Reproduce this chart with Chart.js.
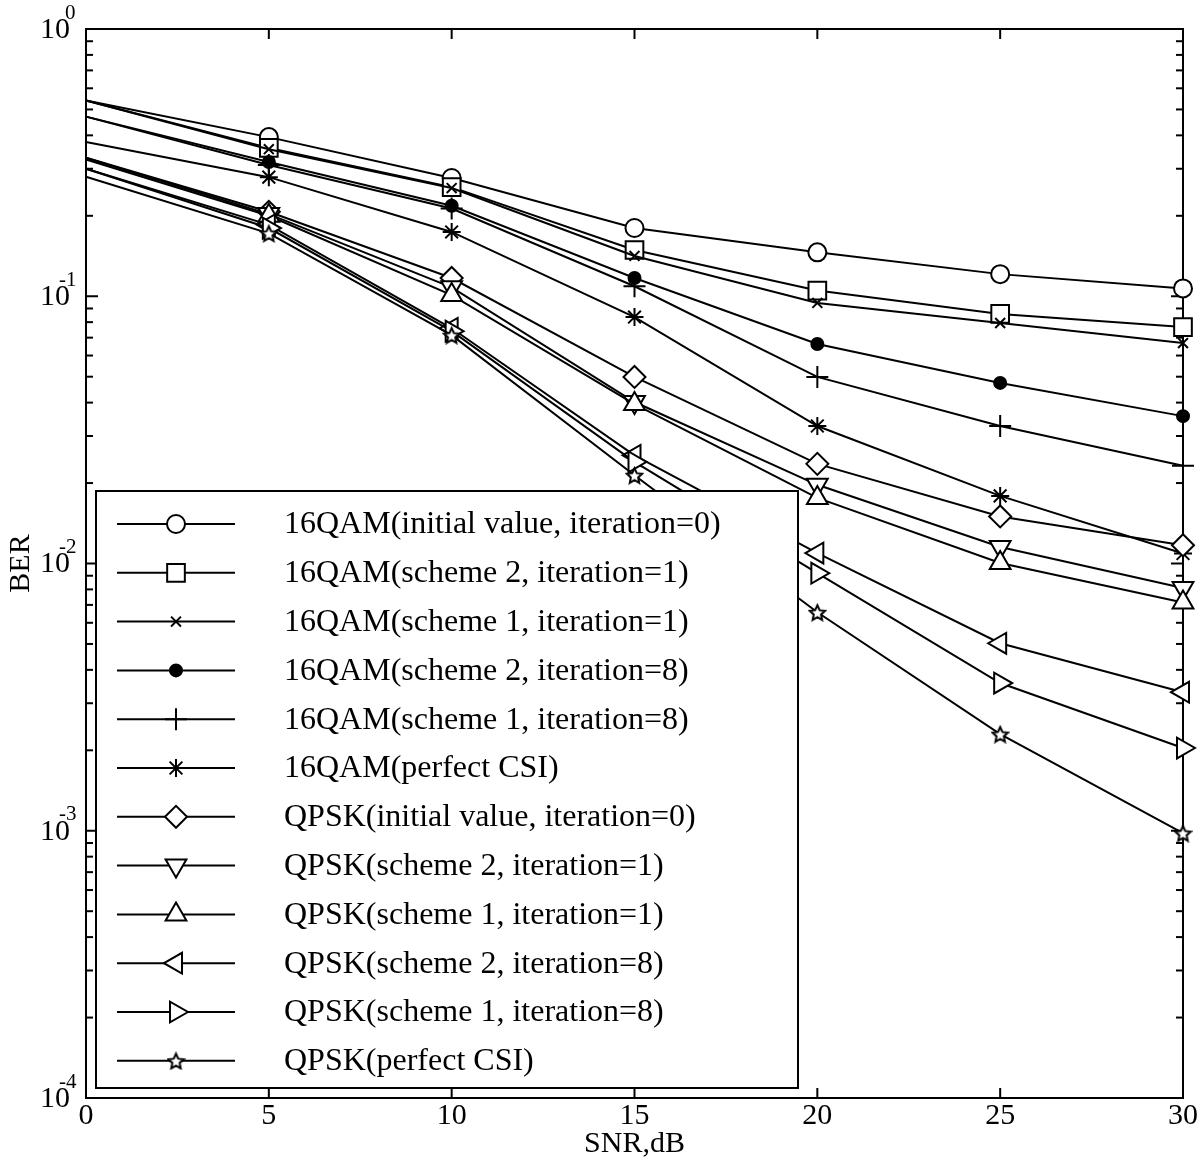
<!DOCTYPE html>
<html lang="en">
<head>
  <meta charset="UTF-8" />
  <title>BER vs SNR</title>
  <script src="https://cdn.jsdelivr.net/npm/chart.js"></script>
  <style>
    html, body { margin: 0; padding: 0; background: #fff; }
  </style>
</head>
<body>
  <canvas id="berChart" width="1200" height="1164"></canvas>

  <script>
    // SNR (dB) on the x axis
    const snr = [0, 5, 10, 15, 20, 25, 30];

    // BER values
    const qam16Init    = [0.54, 0.394, 0.277, 0.180, 0.146, 0.121, 0.107];
    const qam16S2It1   = [0.54, 0.359, 0.256, 0.149, 0.105, 0.0859, 0.0767];
    const qam16S1It1   = [0.54, 0.355, 0.254, 0.1415, 0.0944, 0.0794, 0.0668];
    const qam16S2It8   = [0.47, 0.318, 0.218, 0.117, 0.0663, 0.0474, 0.0356];
    const qam16S1It8   = [0.47, 0.31, 0.213, 0.109, 0.0499, 0.0327, 0.0232];
    const qam16Perfect = [0.378, 0.279, 0.174, 0.0836, 0.0327, 0.0179, 0.0109];
    const qpskInit     = [0.33, 0.207, 0.117, 0.0499, 0.0236, 0.0150, 0.0117];
    const qpskS2It1    = [0.33, 0.203, 0.108, 0.0402, 0.0197, 0.01153, 0.0081];
    const qpskS1It1    = [0.325, 0.200, 0.101, 0.0395, 0.0176, 0.01004, 0.00715];
    const qpskS2It8    = [0.30, 0.185, 0.0759, 0.0254, 0.01094, 0.00503, 0.0033];
    const qpskS1It8    = [0.30, 0.18, 0.074, 0.024, 0.0092, 0.00357, 0.00204];
    const qpskPerfect  = [0.28, 0.172, 0.0715, 0.0214, 0.00657, 0.0023, 0.00098];

    const seriesNames = [
      "16QAM(initial value, iteration=0)",
      "16QAM(scheme 2, iteration=1)",
      "16QAM(scheme 1, iteration=1)",
      "16QAM(scheme 2, iteration=8)",
      "16QAM(scheme 1, iteration=8)",
      "16QAM(perfect CSI)",
      "QPSK(initial value, iteration=0)",
      "QPSK(scheme 2, iteration=1)",
      "QPSK(scheme 1, iteration=1)",
      "QPSK(scheme 2, iteration=8)",
      "QPSK(scheme 1, iteration=8)",
      "QPSK(perfect CSI)"
    ];
    const seriesValues = [qam16Init, qam16S2It1, qam16S1It1, qam16S2It8, qam16S1It8, qam16Perfect,
                          qpskInit, qpskS2It1, qpskS1It1, qpskS2It8, qpskS1It8, qpskPerfect];

    // tick labels
    const xTickValues = [0, 5, 10, 15, 20, 25, 30];
    const xTickLabels = ["0", "5", "10", "15", "20", "25", "30"];
    const yTickValues = [1, 0.1, 0.01, 0.001, 0.0001];
    const yTickExponents = ["0", "-1", "-2", "-3", "-4"];

    const serif = '"Liberation Serif", "Times New Roman", serif';

    // five pointed outline star (no built-in style for it)
    function makeStar(size) {
      const c = document.createElement("canvas");
      c.width = c.height = size;
      const g = c.getContext("2d");
      const cx = size / 2, cy = size / 2 + 1, R = size / 2 - 1.5, r = R * 0.48;
      g.beginPath();
      for (let k = 0; k < 10; k++) {
        const ang = -Math.PI / 2 + k * Math.PI / 5;
        const rr = k % 2 ? r : R;
        g.lineTo(cx + rr * Math.cos(ang), cy + rr * Math.sin(ang));
      }
      g.closePath();
      g.fillStyle = "#fff";
      g.fill();
      g.lineWidth = 2;
      g.strokeStyle = "#000";
      g.stroke();
      return c;
    }
    const starImg = makeStar(19);

    const markers = [
      { style: "circle",   rot: 0,   r: 9,  fill: "#fff" },
      { style: "rect",     rot: 0,   r: 12.5, fill: "#fff" },
      { style: "crossRot", rot: 0,   r: 7,  fill: "#fff" },
      { style: "circle",   rot: 0,   r: 6,  fill: "#000" },
      { style: "cross",    rot: 0,   r: 11, fill: "#fff" },
      { style: "star",     rot: 0,   r: 9,  fill: "#fff" },
      { style: "rectRot",  rot: 0,   r: 11, fill: "#fff" },
      { style: "triangle", rot: 180, r: 12, fill: "#fff" },
      { style: "triangle", rot: 0,   r: 12, fill: "#fff" },
      { style: "triangle", rot: 270, r: 12, fill: "#fff" },
      { style: "triangle", rot: 90,  r: 12, fill: "#fff" },
      { style: starImg,    rot: 0,   r: 9,  fill: "#fff" }
    ];

    const datasets = seriesValues.map((vals, i) => ({
      label: seriesNames[i],
      data: snr.map((s, j) => ({ x: s, y: vals[j] })),
      borderColor: "#000",
      borderWidth: 2,
      backgroundColor: markers[i].fill,
      pointBackgroundColor: markers[i].fill,
      pointBorderColor: "#000",
      pointBorderWidth: 2,
      pointStyle: markers[i].style,
      pointRotation: markers[i].rot,
      pointRadius: ctx => ctx.dataIndex === 0 ? 0 : markers[i].r,
      pointHoverRadius: ctx => ctx.dataIndex === 0 ? 0 : markers[i].r,
      tension: 0,
      fill: false,
      clip: false,
      order: seriesValues.length - i
    }));

    function seg(ctx, x1, y1, x2, y2) {
      ctx.beginPath();
      ctx.moveTo(x1, y1);
      ctx.lineTo(x2, y2);
      ctx.stroke();
    }

    const framePlugin = {
      id: "frame",
      beforeDatasetsDraw(chart) {
        const { ctx, chartArea: a, scales: { x, y } } = chart;
        ctx.save();
        ctx.strokeStyle = "#000";
        ctx.lineWidth = 2;
        ctx.strokeRect(a.left, a.top, a.right - a.left, a.bottom - a.top);
        xTickValues.forEach(v => {
          const px = x.getPixelForValue(v);
          seg(ctx, px, a.bottom, px, a.bottom - 10);
          seg(ctx, px, a.top, px, a.top + 10);
        });
        for (let e = -4; e < 0; e++) {
          for (let m = 1; m <= 9; m++) {
            const py = y.getPixelForValue(m * Math.pow(10, e));
            const len = m === 1 ? 12 : 7;
            seg(ctx, a.left, py, a.left + len, py);
            seg(ctx, a.right, py, a.right - len, py);
          }
        }
        ctx.restore();
      },
      afterDatasetsDraw(chart) {
        // legend box sits inside the plot, over the lines
        const { ctx } = chart;
        ctx.save();
        ctx.fillStyle = "#fff";
        ctx.fillRect(96, 491, 702, 597);
        ctx.strokeStyle = "#000";
        ctx.lineWidth = 2;
        ctx.strokeRect(96, 491, 702, 597);
        ctx.font = "32px " + serif;
        ctx.textBaseline = "middle";
        seriesNames.forEach((name, i) => {
          const ly = 524 + i * 48.8;
          ctx.strokeStyle = "#000";
          ctx.lineWidth = 2;
          seg(ctx, 117, ly, 235, ly);
          ctx.fillStyle = markers[i].fill;
          Chart.helpers.drawPoint(ctx, {
            pointStyle: markers[i].style,
            rotation: markers[i].rot,
            radius: markers[i].r,
            borderWidth: 2
          }, 176, ly);
          ctx.fillStyle = "#000";
          ctx.fillText(name, 284, ly + 1);
        });
        ctx.restore();
      },
      afterDraw(chart) {
        const { ctx, chartArea: a, scales: { x, y } } = chart;
        ctx.save();
        ctx.fillStyle = "#000";
        ctx.font = "30px " + serif;
        ctx.textAlign = "center";
        ctx.textBaseline = "middle";
        xTickValues.forEach((v, i) => {
          ctx.fillText(xTickLabels[i], x.getPixelForValue(v), a.bottom + 18);
        });
        ctx.fillText("SNR,dB", (a.left + a.right) / 2, a.bottom + 46);

        yTickValues.forEach((v, i) => {
          const py = y.getPixelForValue(v);
          ctx.font = "30px " + serif;
          ctx.textAlign = "right";
          ctx.fillText("10", 70, py + 1);
          ctx.font = "21px " + serif;
          ctx.textAlign = "left";
          ctx.fillText(yTickExponents[i], yTickExponents[i].length > 1 ? 59 : 65, py - 16);
        });

        ctx.font = "30px " + serif;
        ctx.textAlign = "center";
        ctx.translate(21, (a.top + a.bottom) / 2);
        ctx.rotate(-Math.PI / 2);
        ctx.fillText("BER", 0, 0);
        ctx.restore();
      }
    };

    new Chart(document.getElementById("berChart").getContext("2d"), {
      type: "line",
      data: { datasets },
      options: {
        responsive: false,
        animation: false,
        events: [],
        layout: { padding: { left: 86, top: 29, right: 17, bottom: 66 } },
        plugins: { legend: { display: false }, tooltip: { enabled: false } },
        scales: {
          x: { type: "linear", min: 0, max: 30, display: false },
          y: { type: "logarithmic", min: 0.0001, max: 1, display: false }
        }
      },
      plugins: [framePlugin]
    });
  </script>
</body>
</html>
